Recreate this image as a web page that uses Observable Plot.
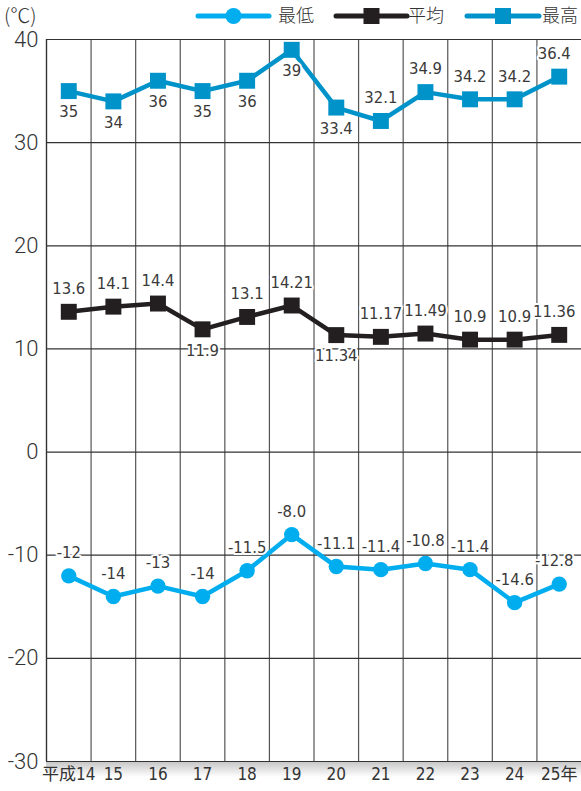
<!DOCTYPE html>
<html><head><meta charset="utf-8">
<script src="https://cdn.jsdelivr.net/npm/d3@7"></script>
<script src="https://cdn.jsdelivr.net/npm/@observablehq/plot@0.6"></script>
<style>
body{margin:0;background:#fff;}
#wrap{position:relative;width:581px;height:791px;font-family:"DejaVu Sans Condensed","Roboto","Noto Sans CJK JP",sans-serif;}
#shade{position:absolute;left:46px;top:761px;width:535px;height:16px;background:linear-gradient(to bottom,#c4c4c4,rgba(255,255,255,0));}
#chart{position:absolute;left:0;top:0;}
#chart svg{background:transparent !important;}
#unit{position:absolute;left:4px;top:0px;font-size:20px;color:#333;font-family:"Noto Sans CJK JP",sans-serif;font-weight:300;}
#legend{position:absolute;left:0;top:0px;width:581px;height:34px;overflow:visible;}
</style></head>
<body>
<div id="wrap">
<div id="shade"></div>
<div id="chart"></div>
<div id="unit">(℃)</div>
<svg id="legend" width="581" height="34"></svg>
</div>
<script>
const years = ["平成14","15","16","17","18","19","20","21","22","23","24","25年"];
const maxT = [35,34,36,35,36,39,33.4,32.1,34.9,34.2,34.2,36.4];
const maxL = ["35","34","36","35","36","39","33.4","32.1","34.9","34.2","34.2","36.4"];
const maxPos = ["b","b","b","b","b","b","b","a","a","a","a","a"];
const avgT = [13.6,14.1,14.4,11.9,13.1,14.21,11.34,11.17,11.49,10.9,10.9,11.36];
const avgL = ["13.6","14.1","14.4","11.9","13.1","14.21","11.34","11.17","11.49","10.9","10.9","11.36"];
const avgPos = ["a","a","a","b","a","a","b","a","a","a","a","a"];
const minT = [-12,-14,-13,-14,-11.5,-8.0,-11.1,-11.4,-10.8,-11.4,-14.6,-12.8];
const minL = ["-12","-14","-13","-14","-11.5","-8.0","-11.1","-11.4","-10.8","-11.4","-14.6","-12.8"];
const minPos = ["a","a","a","a","a","a","a","a","a","a","a","a"];
const yTicks = [-30,-20,-10,0,10,20,30,40];
const seriesNames = ["最低","平均","最高"];
const colors = {min:"#00adee", avg:"#231f20", max:"#0093c9"};

const idx = years.map((_, i) => i);
const last = years.length - 1;
const mk = (vals, labs, pos) => vals.map((v, i) => ({i, v, lab: labs[i], pos: pos[i]}));
const dMax = mk(maxT, maxL, maxPos), dMax2 = dMax, dAvg = mk(avgT, avgL, avgPos), dMin = mk(minT, minL, minPos);
const bounds = d3.range(-0.5, 11, 1);
const lf = '"DejaVu Sans Condensed",Roboto,sans-serif';

function labels(data){
  const opt = {x:"i", y:"v", text:"lab", fontSize:16.5, fill:"#3a3a3a", stroke:"white", strokeWidth:4, fontFamily:lf};
  const a = data.filter(d=>d.pos==="a"), b = data.filter(d=>d.pos==="b");
  return [
    Plot.text(a.filter(d=>d.i!==last), {...opt, dy:-23}),
    Plot.text(a.filter(d=>d.i===last), {...opt, dy:-23, dx:-5}),
    Plot.text(b, {...opt, dy:21})
  ];
}

const chart = Plot.plot({
  width:581, height:791,
  marginTop:39, marginBottom:30, marginLeft:46, marginRight:0,
  x:{type:"linear", domain:[-0.5,11.5]},
  y:{domain:[-30,40]},
  style:{background:"transparent", fontFamily:lf},
  marks:[
    Plot.ruleX(bounds.slice(1), {stroke:"#555", strokeWidth:1.2}),
    Plot.ruleY(yTicks, {stroke:"#333", strokeWidth:1.2}),
    Plot.ruleX([-0.5], {stroke:"#333", strokeWidth:1.4}),
    Plot.axisY({ticks:yTicks, tickSize:0, tickPadding:8, fontSize:22, fontWeight:300, fill:"#333", label:null, tickFormat:d=>String(d), fontFamily:'Roboto,sans-serif'}),
    Plot.axisX({ticks:idx, tickSize:0, tickPadding:6, fontSize:17, fill:"#333", label:null, tickFormat:i=>years[i], fontFamily:'"DejaVu Sans Condensed","Noto Sans CJK JP",sans-serif'}),
    Plot.line(dMax, {x:"i", y:"v", stroke:colors.max, strokeWidth:4.5}),
    Plot.dot(dMax, {x:"i", y:"v", symbol:"square", r:9, fill:colors.max}),
    Plot.line(dAvg, {x:"i", y:"v", stroke:colors.avg, strokeWidth:4.5}),
    Plot.dot(dAvg, {x:"i", y:"v", symbol:"square", r:9, fill:colors.avg}),
    Plot.line(dMin, {x:"i", y:"v", stroke:colors.min, strokeWidth:4.5}),
    Plot.dot(dMin, {x:"i", y:"v", symbol:"circle", r:7.7, fill:colors.min}),
    ...labels(dMax), ...labels(dAvg), ...labels(dMin)
  ]
});
document.getElementById("chart").appendChild(chart);

// legend
const lg = d3.select("#legend");
const items = [
  {name:seriesNames[0], c:colors.min, sym:"circle", x0:198, x1:269, tx:278},
  {name:seriesNames[1], c:colors.avg, sym:"square", x0:336, x1:407, tx:408},
  {name:seriesNames[2], c:colors.max, sym:"square", x0:467, x1:539, tx:542}
];
items.forEach(it=>{
  const cy = 16;
  lg.append("line").attr("x1",it.x0).attr("x2",it.x1).attr("y1",cy).attr("y2",cy).attr("stroke",it.c).attr("stroke-width",5).attr("stroke-linecap","round");
  const cx = (it.x0+it.x1)/2;
  if(it.sym==="circle") lg.append("circle").attr("cx",cx).attr("cy",cy).attr("r",8).attr("fill",it.c);
  else lg.append("rect").attr("x",cx-8).attr("y",cy-8).attr("width",16).attr("height",16).attr("fill",it.c);
  lg.append("text").attr("x",it.tx).attr("y",cy).attr("dy","0.36em").attr("font-size",18).attr("fill","#333")
    .attr("font-family",'"Noto Sans CJK JP",sans-serif').attr("font-weight",300).text(it.name);
});
</script>
</body></html>
